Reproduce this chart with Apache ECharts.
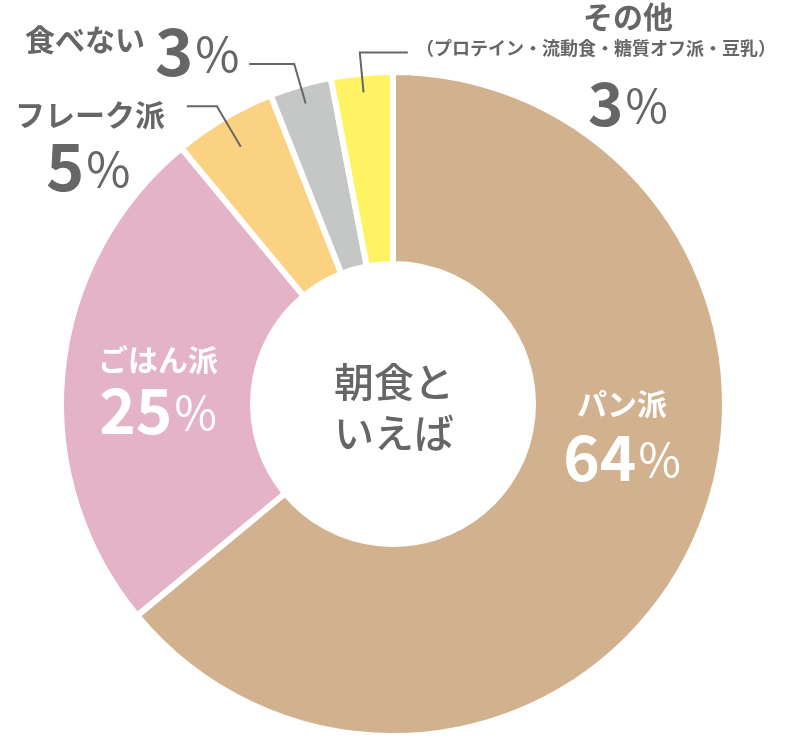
<!DOCTYPE html>
<html>
<head>
<meta charset="utf-8">
<script src="https://cdn.jsdelivr.net/npm/echarts@6/dist/echarts.min.js"></script>
<style>
html,body{margin:0;padding:0;background:#fff;}
#chart{width:788px;height:750px;}
</style>
</head>
<body>
<div id="chart"></div>
<script>
// ---- data ----
const categories = ['パン派', 'ごはん派', 'フレーク派', '食べない', 'その他'];
const subNotes = ['', '', '', '', '（プロテイン・流動食・糖質オフ派・豆乳）'];
const percents = [64, 25, 5, 3, 3];
const colors = ['#D2B28E', '#E4B3C7', '#FAD282', '#C5C6C6', '#FFF364'];
const centerTitle = '朝食と\nいえば';

// ---- layout constants ----
const CX = 393, CY = 404, R_IN = 140, R_OUT = 332;
const JP = '"Noto Sans CJK JP", "Noto Sans", sans-serif';
const GRAY = '#666666';

// label placement (top-left / top-center anchors) and leader line shaping
const labelPlace = [
  { x: 622, y: 382, align: 'center' },
  { x: 158, y: 341, align: 'center' },
  { x: 15, y: 96, align: 'left', line: { s: -33, e: 14, h: -30 } },
  { x: 25, y: 18, align: 'left', line: { s: -19, e: 22, h: -45 } },
  { x: 416, y: 8, align: 'left', line: { s: -19, e: 21, h: 48 } }
];

function innerLabel(i) {
  const name = categories[i], p = percents[i];
  return {
    show: true, position: 'inside',
    formatter: '{n|' + name + '}\n{p|' + p + '}{s|%}',
    rich: {
      n: { fontFamily: JP, fontSize: 30, fontWeight: 'bold', color: '#fff', lineHeight: i === 0 ? 44 : 38, align: 'center' },
      p: { fontFamily: JP, fontSize: 62, fontWeight: 'bold', color: '#fff', lineHeight: 62 },
      s: { fontFamily: JP, fontSize: 46, fontWeight: 'normal', color: '#fff', lineHeight: 62, padding: [6, 0, 0, 2] }
    }
  };
}

function outerLabel(i) {
  const name = categories[i], p = percents[i];
  if (i === 2) {
    return {
      show: true, position: 'outside',
      formatter: '{n|' + name + '}\n{p|' + p + '}{s|%}',
      rich: {
        n: { fontFamily: JP, fontSize: 30, fontWeight: 'bold', color: GRAY, lineHeight: 37 },
        p: { fontFamily: JP, fontSize: 65, fontWeight: 'bold', color: GRAY, lineHeight: 66, padding: [0, 0, 0, 31] },
        s: { fontFamily: JP, fontSize: 48, fontWeight: 'normal', color: GRAY, lineHeight: 66, padding: [6, 0, 0, 2] }
      }
    };
  }
  if (i === 3) {
    return {
      show: true, position: 'outside',
      formatter: '{n|' + name + '}{p|' + p + '}{s|%}',
      rich: {
        n: { fontFamily: JP, fontSize: 30, fontWeight: 'bold', color: GRAY, lineHeight: 66, padding: [0, 10, 22, 0] },
        p: { fontFamily: JP, fontSize: 65, fontWeight: 'bold', color: GRAY, lineHeight: 66 },
        s: { fontFamily: JP, fontSize: 48, fontWeight: 'normal', color: GRAY, lineHeight: 66, padding: [6, 0, 0, 2] }
      }
    };
  }
  return {
    show: true, position: 'outside',
    formatter: '{n|' + name + '}\n{m|' + subNotes[i] + '}\n{p|' + p + '}{s|%}',
    rich: {
      n: { fontFamily: JP, fontSize: 30, fontWeight: 'bold', color: GRAY, lineHeight: 18, padding: [0, 0, 0, 167] },
      m: { fontFamily: JP, fontSize: 18, fontWeight: 'bold', color: GRAY, lineHeight: 44 },
      p: { fontFamily: JP, fontSize: 60, fontWeight: 'bold', color: GRAY, lineHeight: 66, padding: [0, 0, 0, 172] },
      s: { fontFamily: JP, fontSize: 46, fontWeight: 'normal', color: GRAY, lineHeight: 66, padding: [6, 0, 0, 2] }
    }
  };
}

const OUTER = [false, false, true, true, true];

// series A: coloured rings with inside labels
const ringData = categories.map((c, i) => ({
  name: c,
  value: percents[i],
  itemStyle: { color: colors[i] },
  label: OUTER[i] ? { show: false } : innerLabel(i),
  labelLine: { show: false }
}));

// series B: same geometry, transparent, carries outside labels + leader lines above the ring
const calloutData = categories.map((c, i) => ({
  name: c,
  value: percents[i],
  label: OUTER[i] ? outerLabel(i) : { show: false },
  labelLine: { show: OUTER[i], lineStyle: { color: GRAY, width: 2, opacity: 1 }, smooth: false }
}));

function layoutFn(p) {
  const pl = labelPlace[p.dataIndex];
  const res = { x: pl.x, y: pl.y, align: pl.align, verticalAlign: 'top' };
  if (pl.line && p.labelLinePoints && p.labelLinePoints.length) {
    const p0 = p.labelLinePoints[0];
    const dx = p0[0] - CX, dy = p0[1] - CY;
    const r = Math.hypot(dx, dy) || 1;
    const ux = dx / r, uy = dy / r;
    const a = [CX + ux * (R_OUT + pl.line.s), CY + uy * (R_OUT + pl.line.s)];
    const b = [CX + ux * (R_OUT + pl.line.e), CY + uy * (R_OUT + pl.line.e)];
    const c = [b[0] + pl.line.h, b[1]];
    res.labelLinePoints = [a, b, c];
  }
  return res;
}

const chart = echarts.init(document.getElementById('chart'), null, { renderer: 'canvas' });
chart.setOption({
  backgroundColor: '#ffffff',
  animation: false,
  title: {
    text: centerTitle,
    left: 'center',
    top: 356,
    padding: 0,
    textStyle: { fontFamily: JP, fontSize: 40, fontWeight: 500, color: GRAY, lineHeight: 51 },
    textAlign: 'left'
  },
  series: [{
    type: 'pie',
    z: 2,
    center: [CX, CY],
    radius: [R_IN, R_OUT],
    startAngle: 90,
    clockwise: true,
    avoidLabelOverlap: false,
    silent: true,
    itemStyle: { borderColor: '#ffffff', borderWidth: 6 },
    labelLayout: layoutFn,
    data: ringData
  }, {
    type: 'pie',
    z: 5,
    center: [CX, CY],
    radius: [R_IN, R_OUT],
    startAngle: 90,
    clockwise: true,
    avoidLabelOverlap: false,
    silent: true,
    itemStyle: { color: 'rgba(255,255,255,0)', borderWidth: 0, opacity: 1 },
    label: { position: 'outside' },
    labelLine: { length: 20, length2: 30 },
    labelLayout: layoutFn,
    data: calloutData
  }]
});
</script>
</body>
</html>
